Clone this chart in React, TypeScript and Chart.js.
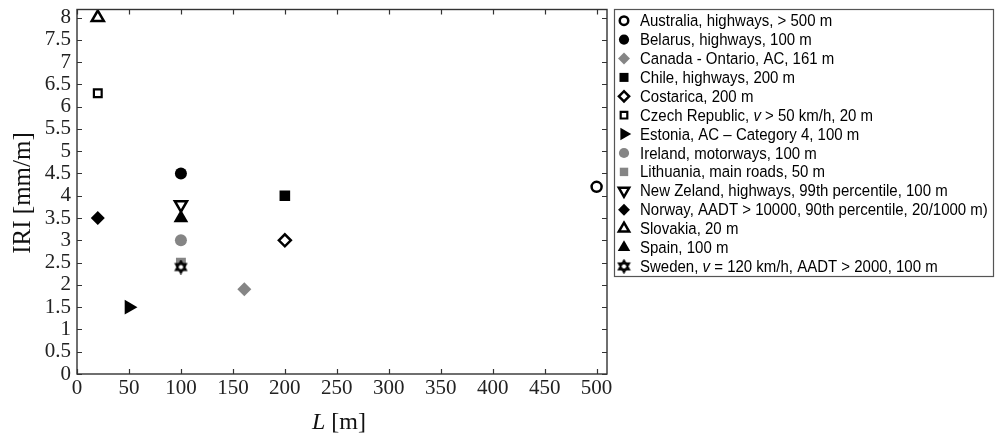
import React, { useEffect, useRef } from 'react';
import { Chart, registerables } from 'chart.js';
import { drawPoint } from 'chart.js/helpers';

Chart.register(...registerables);

// ---------- data ----------
const seriesNames = [
  'Australia, highways, > 500 m',
  'Belarus, highways, 100 m',
  'Canada - Ontario, AC, 161 m',
  'Chile, highways, 200 m',
  'Costarica, 200 m',
  'Czech Republic, v > 50 km/h, 20 m',
  'Estonia, AC \u2013 Category 4, 100 m',
  'Ireland, motorways, 100 m',
  'Lithuania, main roads, 50 m',
  'New Zeland, highways, 99th percentile, 100 m',
  'Norway, AADT > 10000, 90th percentile, 20/1000 m)',
  'Slovakia, 20 m',
  'Spain, 100 m',
  'Sweden, v = 120 km/h, AADT > 2000, 100 m',
];
const lengthValues = [500, 100, 161, 200, 200, 20, 50, 100, 100, 100, 20, 20, 100, 100];
const iriValues = [4.2, 4.5, 1.9, 4.0, 3.0, 6.3, 1.5, 3.0, 2.5, 3.8, 3.5, 8.0, 3.5, 2.4];
const xTicks = [0, 50, 100, 150, 200, 250, 300, 350, 400, 450, 500];
const yTicks = [0, 0.5, 1, 1.5, 2, 2.5, 3, 3.5, 4, 4.5, 5, 5.5, 6, 6.5, 7, 7.5, 8];
const xTitle = ['L', ' [m]'];
const yTitle = 'IRI [mm/m]';

// ---------- styles ----------
const BLACK = '#000000';
const GRAY = '#858585';
const WHITE = '#ffffff';

function makeHexagram(size: number): HTMLCanvasElement {
  const c = document.createElement('canvas');
  c.width = size;
  c.height = size;
  const ctx = c.getContext('2d')!;
  const cx = size / 2;
  const cy = size / 2;
  const r = size / 2 - 1.5;
  const tri = (rot: number) => {
    ctx.beginPath();
    for (let k = 0; k < 3; k++) {
      const a = rot + (k * 2 * Math.PI) / 3;
      const px = cx + r * Math.cos(a);
      const py = cy + r * Math.sin(a);
      if (k === 0) ctx.moveTo(px, py);
      else ctx.lineTo(px, py);
    }
    ctx.closePath();
  };
  ctx.fillStyle = WHITE;
  tri(-Math.PI / 2); ctx.fill();
  tri(Math.PI / 2); ctx.fill();
  ctx.strokeStyle = BLACK;
  ctx.lineWidth = 1.8;
  tri(-Math.PI / 2); ctx.stroke();
  tri(Math.PI / 2); ctx.stroke();
  return c;
}

type Marker = { style: any; rotation: number; radius: number; fill: string; stroke: string; width: number };

function buildMarkers(): Marker[] {
  const hex = makeHexagram(15);
  return [
    { style: 'circle', rotation: 0, radius: 5, fill: WHITE, stroke: BLACK, width: 2.5 },
    { style: 'circle', rotation: 0, radius: 6, fill: BLACK, stroke: BLACK, width: 0 },
    { style: 'rectRot', rotation: 0, radius: 7, fill: GRAY, stroke: GRAY, width: 0 },
    { style: 'rect', rotation: 0, radius: 7.5, fill: BLACK, stroke: BLACK, width: 0 },
    { style: 'rectRot', rotation: 0, radius: 6, fill: WHITE, stroke: BLACK, width: 2.5 },
    { style: 'rect', rotation: 0, radius: 5.5, fill: WHITE, stroke: BLACK, width: 2.2 },
    { style: 'triangle', rotation: 90, radius: 8.5, fill: BLACK, stroke: BLACK, width: 0 },
    { style: 'circle', rotation: 0, radius: 6, fill: GRAY, stroke: GRAY, width: 0 },
    { style: 'rect', rotation: 0, radius: 7, fill: GRAY, stroke: GRAY, width: 0 },
    { style: 'triangle', rotation: 180, radius: 7, fill: WHITE, stroke: BLACK, width: 2.5 },
    { style: 'rectRot', rotation: 0, radius: 7, fill: BLACK, stroke: BLACK, width: 0 },
    { style: 'triangle', rotation: 0, radius: 7, fill: WHITE, stroke: BLACK, width: 2.5 },
    { style: 'triangle', rotation: 0, radius: 8.5, fill: BLACK, stroke: BLACK, width: 0 },
    { style: hex, rotation: 0, radius: 7, fill: WHITE, stroke: BLACK, width: 0 },
  ];
}

const AXIS_COLOR = '#333333';
const SERIF = '"Liberation Serif", "Times New Roman", serif';
const SANS = '"Liberation Sans", Arial, sans-serif';

function makeFramePlugin(markers: Marker[]) {
  return {
    id: 'frameAndLegend',
    afterDraw(chart: any) {
      const ctx: CanvasRenderingContext2D = chart.ctx;
      const a = chart.chartArea;
      const xs = chart.scales.x;
      const ys = chart.scales.y;
      ctx.save();
      // frame
      ctx.strokeStyle = AXIS_COLOR;
      ctx.lineWidth = 1.4;
      ctx.strokeRect(a.left, a.top, a.right - a.left, a.bottom - a.top);
      // inward ticks
      const tl = 5;
      ctx.beginPath();
      for (const v of xTicks) {
        const px = Math.round(xs.getPixelForValue(v)) + 0.5;
        ctx.moveTo(px, a.bottom); ctx.lineTo(px, a.bottom - tl);
        ctx.moveTo(px, a.top); ctx.lineTo(px, a.top + tl);
      }
      for (const v of yTicks) {
        const py = Math.round(ys.getPixelForValue(v)) + 0.5;
        ctx.moveTo(a.left, py); ctx.lineTo(a.left + tl, py);
        ctx.moveTo(a.right, py); ctx.lineTo(a.right - tl, py);
      }
      ctx.lineWidth = 1.2;
      ctx.stroke();

      // axis titles
      ctx.fillStyle = '#111';
      ctx.textBaseline = 'middle';
      ctx.font = `italic 24px ${SERIF}`;
      const w0 = ctx.measureText(xTitle[0]).width;
      ctx.font = `24px ${SERIF}`;
      const w1 = ctx.measureText(xTitle[1]).width;
      const cx = (a.left + a.right) / 2 - 3;
      const tx = cx - (w0 + w1) / 2;
      ctx.textAlign = 'left';
      ctx.font = `italic 24px ${SERIF}`;
      ctx.fillText(xTitle[0], tx, 423);
      ctx.font = `24px ${SERIF}`;
      ctx.fillText(xTitle[1], tx + w0, 423);

      ctx.save();
      ctx.translate(23, 193);
      ctx.rotate(-Math.PI / 2);
      ctx.textAlign = 'center';
      ctx.font = `25px ${SERIF}`;
      ctx.fillText(yTitle, 0, 0);
      ctx.restore();

      // legend
      const lx = 614, ly = 9, lw = 379, lh = 267;
      ctx.fillStyle = WHITE;
      ctx.fillRect(lx, ly, lw, lh);
      ctx.strokeStyle = '#555';
      ctx.lineWidth = 1.2;
      ctx.strokeRect(lx + 0.5, ly + 0.5, lw, lh);
      const rowH = 18.9;
      for (let i = 0; i < seriesNames.length; i++) {
        const y = 20.7 + i * rowH;
        const m = markers[i];
        const scale = 0.85;
        ctx.save();
        ctx.fillStyle = m.fill;
        ctx.strokeStyle = m.stroke;
        ctx.lineWidth = m.width;
        drawPoint(ctx, { pointStyle: m.style, rotation: m.rotation, radius: m.radius * scale, borderWidth: m.width } as any, 624, y);
        ctx.restore();
        // text with italic "v"
        ctx.save();
        ctx.translate(0, y + 1);
        ctx.scale(1, 1.1);
        ctx.fillStyle = '#000';
        ctx.textAlign = 'left';
        ctx.textBaseline = 'middle';
        let x = 640;
        const tokens = seriesNames[i].split(' ');
        tokens.forEach((tok, k) => {
          const t = k < tokens.length - 1 ? tok + ' ' : tok;
          ctx.font = tok === 'v' ? `italic 15px ${SANS}` : `15px ${SANS}`;
          ctx.fillText(t, x, 0);
          x += ctx.measureText(t).width;
        });
        ctx.restore();
      }
      ctx.restore();
    },
  };
}

export default function App() {
  const ref = useRef<HTMLCanvasElement | null>(null);
  useEffect(() => {
    if (!ref.current) return;
    const markers = buildMarkers();
    const datasets = seriesNames.map((name, i) => ({
      label: name,
      data: [{ x: lengthValues[i], y: iriValues[i] }],
      pointStyle: markers[i].style,
      rotation: markers[i].rotation,
      radius: markers[i].radius,
      backgroundColor: markers[i].fill,
      borderColor: markers[i].stroke,
      borderWidth: markers[i].width,
      order: -i,
    }));
    const chart = new Chart(ref.current, {
      type: 'scatter',
      data: { datasets },
      options: {
        responsive: false,
        animation: false,
        devicePixelRatio: 1,
        layout: { padding: { top: 9, right: 391, left: 0, bottom: 0 } },
        plugins: { legend: { display: false }, tooltip: { enabled: false } },
        scales: {
          x: {
            type: 'linear',
            min: 0,
            max: 510,
            grid: { display: false, drawTicks: false },
            border: { display: false },
            afterBuildTicks: (s: any) => { s.ticks = xTicks.map((v) => ({ value: v })); },
            afterFit: (s: any) => { s.height = 63; s.paddingLeft = 0; s.paddingRight = 0; },
            ticks: {
              font: { family: SERIF, size: 21 },
              color: '#222',
              padding: 2,
              maxRotation: 0,
              autoSkip: false,
              callback: (v: any) => String(v),
            },
          },
          y: {
            type: 'linear',
            min: 0,
            max: 8.18,
            grid: { display: false, drawTicks: false },
            border: { display: false },
            afterBuildTicks: (s: any) => { s.ticks = yTicks.map((v) => ({ value: v })); },
            afterFit: (s: any) => { s.width = 77; s.paddingTop = 0; s.paddingBottom = 0; },
            ticks: {
              font: { family: SERIF, size: 21 },
              color: '#222',
              padding: 6,
              autoSkip: false,
              callback: (v: any) => String(v),
            },
          },
        },
      },
      plugins: [makeFramePlugin(markers)],
    } as any);
    return () => chart.destroy();
  }, []);
  return (
    <div style={{ position: 'absolute', left: 0, top: 0, width: 998, height: 437, background: '#fff' }}>
      <canvas ref={ref} width={998} height={437} style={{ display: 'block' }} />
    </div>
  );
}
